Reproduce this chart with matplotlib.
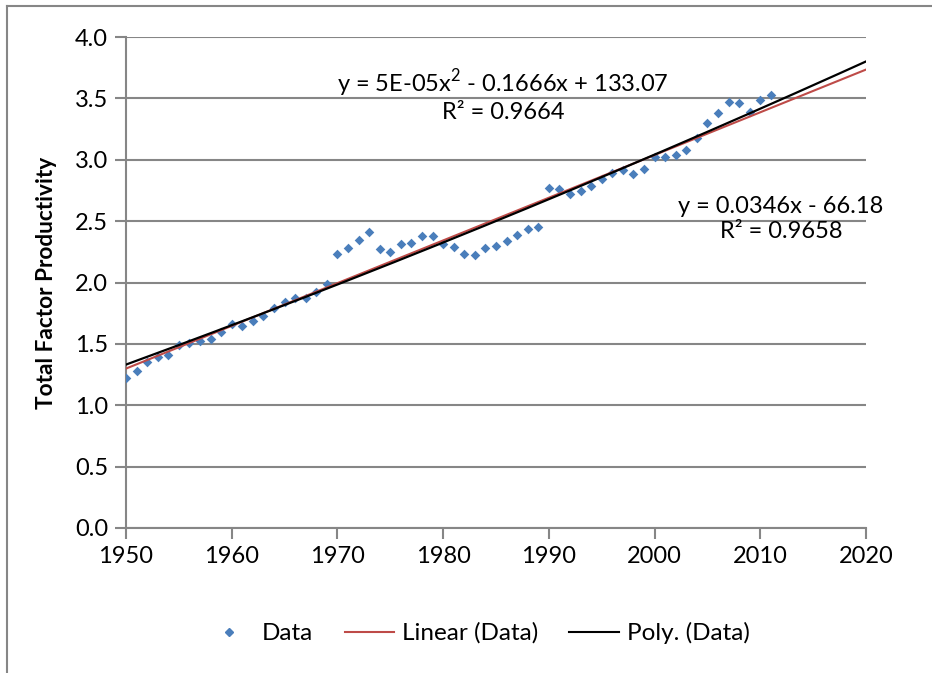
import numpy as np
import matplotlib
matplotlib.use("Agg")
import matplotlib.pyplot as plt
from matplotlib.lines import Line2D

years = list(range(1950, 2012))
tfp = [1.22, 1.28, 1.35, 1.39, 1.41, 1.49, 1.505, 1.527, 1.54, 1.60,
       1.665, 1.643, 1.684, 1.728, 1.796, 1.84, 1.875, 1.875, 1.92, 1.989,
       2.235, 2.277, 2.344, 2.408, 2.27, 2.25, 2.31, 2.324, 2.376, 2.376,
       2.31, 2.286, 2.229, 2.223, 2.28, 2.30, 2.34, 2.386, 2.433, 2.455,
       2.773, 2.758, 2.718, 2.745, 2.785, 2.843, 2.895, 2.92, 2.882, 2.928,
       3.02, 3.02, 3.04, 3.078, 3.176, 3.30, 3.377, 3.467, 3.459, 3.39,
       3.49, 3.524]
poly_label = "y = 5E-05x$^2$ - 0.1666x + 133.07\nR² = 0.9664"
lin_label = "y = 0.0346x - 66.18\nR² = 0.9658"
x_ticks = [1950, 1960, 1970, 1980, 1990, 2000, 2010, 2020]
y_ticks = [0.0, 0.5, 1.0, 1.5, 2.0, 2.5, 3.0, 3.5, 4.0]

plt.rcParams['font.family'] = ['Lato', 'DejaVu Sans']
plt.rcParams['mathtext.fontset'] = 'custom'
plt.rcParams['mathtext.rm'] = 'Lato'

W, H = 932, 673
fig = plt.figure(figsize=(W / 100, H / 100), dpi=100)
ax = fig.add_axes([126 / W, 1 - 528 / H, (866 - 126) / W, (528 - 37) / H])

x = np.array(years, dtype=float)
y = np.array(tfp)
xf = np.linspace(1950, 2020, 200)
lin = np.polyfit(x, y, 1)
quad = np.polyfit(x - 1980, y, 2)

grid_c = '#868686'
ax.scatter(x, y, marker='D', s=24, color='#4a7ebb', zorder=3, linewidths=0)
ax.plot(xf, np.polyval(lin, xf), color='#be4b48', lw=1.5, zorder=4)
ax.plot(xf, np.polyval(quad, xf - 1980), color='black', lw=1.6, zorder=5)

ax.set_xlim(1950, 2020)
ax.set_ylim(0, 4)
ax.set_xticks(x_ticks)
ax.set_yticks(y_ticks)
ax.set_yticklabels([f"{v:.1f}" for v in y_ticks])
ax.grid(axis='y', color=grid_c, lw=1.5)
ax.set_axisbelow(True)
for s in ['top', 'right']:
    ax.spines[s].set_visible(False)
for s in ['left', 'bottom']:
    ax.spines[s].set_color(grid_c)
    ax.spines[s].set_linewidth(1.5)
ax.tick_params(axis='both', colors=grid_c, length=8, width=1.5, labelsize=17,
               labelcolor='black')
ax.tick_params(axis='x', pad=5)
ax.tick_params(axis='y', pad=5)
ax.set_ylabel("Total Factor Productivity", fontsize=16.3, fontweight='bold')
ax.yaxis.set_label_coords((57 - 126) / (866 - 126), 0.5)

fig.text(503 / W, 1 - 95 / H, poly_label, ha='center', va='center', fontsize=17,
         linespacing=1.2, multialignment='center')
fig.text(781 / W, 1 - 219 / H, lin_label, ha='center', va='center', fontsize=17,
         linespacing=1.2, multialignment='center')

handles = [
    Line2D([], [], marker='D', ls='none', color='#4a7ebb', markersize=4.5),
    Line2D([], [], color='#be4b48', lw=1.5),
    Line2D([], [], color='black', lw=1.5),
]
fig.legend(handles, ["Data", "Linear (Data)", "Poly. (Data)"], loc='center',
           bbox_to_anchor=(477 / W, 1 - 633 / H), ncol=3, frameon=False,
           fontsize=17.5, handlelength=2.05, handletextpad=0.3, columnspacing=1.3)

fig.add_artist(Line2D([6.5 / W, 6.5 / W], [0, 1 - 5.5 / H], color=grid_c, lw=1.5,
                      transform=fig.transFigure))
fig.add_artist(Line2D([6.5 / W, 1], [1 - 5.5 / H, 1 - 5.5 / H], color=grid_c, lw=1.5,
                      transform=fig.transFigure))

fig.savefig("out.png", dpi=100)
